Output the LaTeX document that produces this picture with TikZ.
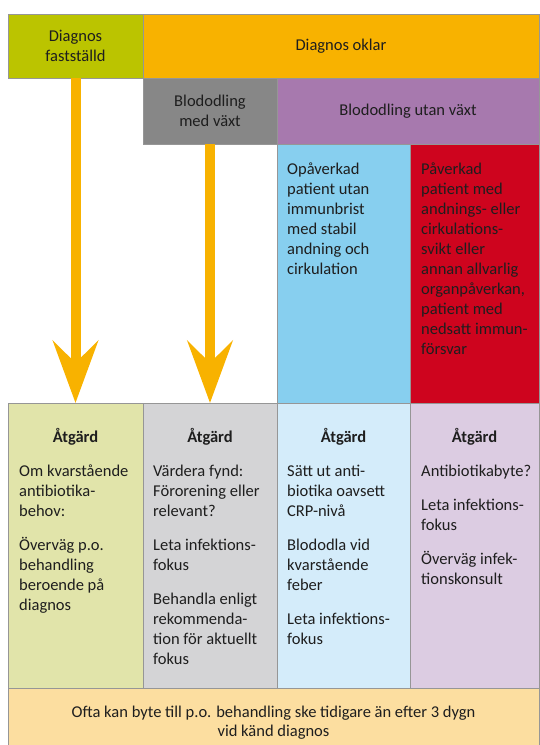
\documentclass[tikz,border=0pt]{standalone}
\usepackage{fontspec}
\setmainfont{Carlito}
\usetikzlibrary{positioning,calc,arrows.meta}

\definecolor{diaggreen}{RGB}{187,196,0}
\definecolor{diagorange}{RGB}{248,178,0}
\definecolor{odlgray}{RGB}{135,135,135}
\definecolor{odlpurple}{RGB}{167,121,174}
\definecolor{opablue}{RGB}{135,207,239}
\definecolor{pavred}{RGB}{206,4,30}
\definecolor{atggreen}{RGB}{225,228,170}
\definecolor{atggray}{RGB}{212,212,214}
\definecolor{atgblue}{RGB}{212,236,250}
\definecolor{atgpurple}{RGB}{220,204,226}
\definecolor{footfill}{RGB}{252,222,160}
\definecolor{boxline}{RGB}{150,150,150}
\definecolor{txtdark}{RGB}{30,30,30}

\newcommand{\boxfont}{\fontsize{16.5}{20}\selectfont}

\begin{document}
\begin{tikzpicture}[x=1pt, y=1pt,
    cell/.style={rectangle, draw=boxline, line width=0.6pt, anchor=north west, inner sep=0pt, outer sep=0pt, align=center, font=\boxfont, text=txtdark},
    txt/.style={anchor=north west, inner sep=0pt, align=left, font=\boxfont, text=txtdark},
    atghead/.style={anchor=base, inner sep=0pt, font=\boxfont\bfseries, text=txtdark},
    bigarrow/.style={draw=diagorange, line width=10pt, -{Stealth[length=62pt, width=45pt, inset=22pt]}}
]
\useasboundingbox (0,0) rectangle (539,-745);

% Header rows
\node[cell, fill=diaggreen, minimum width=135pt, minimum height=64pt] (fast) at (8,-14) {Diagnos\\fastställd};
\node[cell, fill=diagorange, minimum width=396pt, minimum height=64pt] (oklar) at (143,-14) {Diagnos oklar};
\node[cell, fill=odlgray, minimum width=134pt, minimum height=66pt] (med) at (143,-78) {Blododling\\med växt};
\node[cell, fill=odlpurple, minimum width=262pt, minimum height=66pt] (utan) at (277,-78) {Blododling utan växt};

% Patient state
\node[cell, fill=opablue, minimum width=133pt, minimum height=259pt] (opa) at (277,-144) {};
\node[cell, fill=pavred, minimum width=129pt, minimum height=259pt] (pav) at (410,-144) {};
\node[txt] (opatxt) at ($(opa.north west)+(10,-19)$) {Opåverkad\\patient utan\\immunbrist\\med stabil\\andning och\\cirkulation};
\node[txt] (pavtxt) at ($(pav.north west)+(11,-19)$) {Påverkad\\patient med\\andnings- eller\\cirkulations-\\svikt eller\\annan allvarlig\\organpåverkan,\\patient med\\nedsatt immun-\\försvar};

% Actions
\node[cell, fill=atggreen, minimum width=135pt, minimum height=285pt] (atg1) at (8,-403) {};
\node[cell, fill=atggray, minimum width=134pt, minimum height=285pt] (atg2) at (143,-403) {};
\node[cell, fill=atgblue, minimum width=133pt, minimum height=285pt] (atg3) at (277,-403) {};
\node[cell, fill=atgpurple, minimum width=129pt, minimum height=285pt] (atg4) at (410,-403) {};

\foreach \i in {1,...,4}
  \node[atghead] (atg\i h) at ($(atg\i.north)+(0,-39)$) {Åtgärd};

\node[txt] (atg1txt) at ($(atg1.north west)+(11,-62)$) {Om kvarstående\\antibiotika-\\behov:\\[14pt]Överväg p.o.\\behandling\\beroende på\\diagnos};
\node[txt] (atg2txt) at ($(atg2.north west)+(10,-62)$) {Värdera fynd:\\Förorening eller\\relevant?\\[14pt]Leta infektions-\\fokus\\[14pt]Behandla enligt\\rekommenda-\\tion för aktuellt\\fokus};
\node[txt] (atg3txt) at ($(atg3.north west)+(10,-62)$) {Sätt ut anti-\\biotika oavsett\\CRP-nivå\\[14pt]Blododla vid\\kvarstående\\feber\\[14pt]Leta infektions-\\fokus};
\node[txt] (atg4txt) at ($(atg4.north west)+(11,-62)$) {Antibiotikabyte?\\[14pt]Leta infektions-\\fokus\\[14pt]Överväg infek-\\tionskonsult};

% Footer
\node[cell, fill=footfill, minimum width=531pt, minimum height=70pt] (foot) at (8,-688) {Ofta kan byte till p.o. behandling ske tidigare än efter 3 dygn\\[-1pt]vid känd diagnos};

% Arrows
\draw[bigarrow] (fast.south) -- (atg1.north);
\draw[bigarrow] (med.south) -- (atg2.north);

\end{tikzpicture}
\end{document}
